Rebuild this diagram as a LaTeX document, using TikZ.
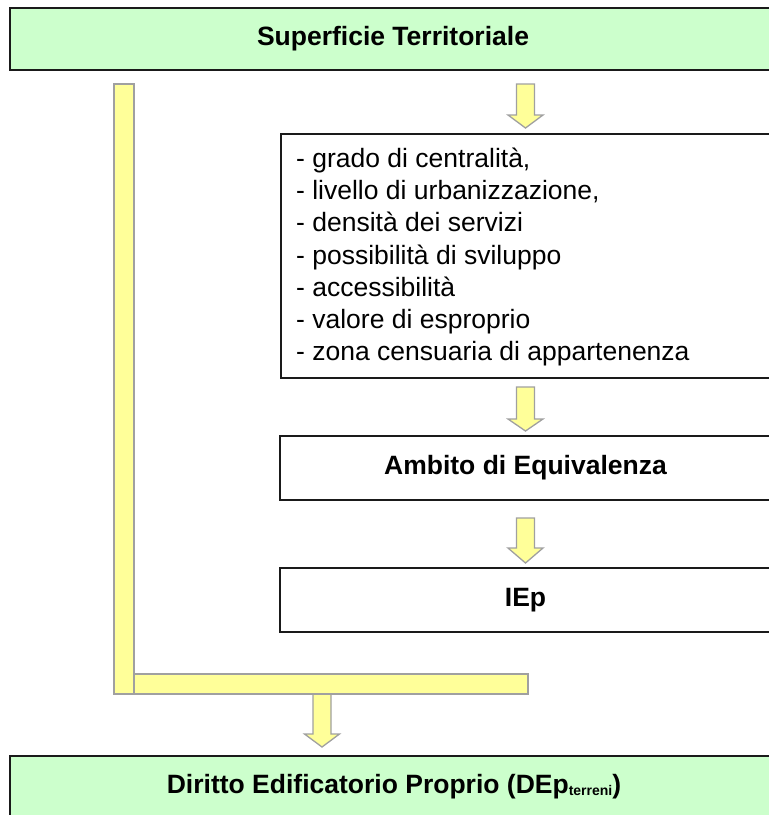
\documentclass[tikz,border=0pt]{standalone}
\usepackage{fontspec}
\setmainfont{Liberation Sans}
\definecolor{boxgreen}{HTML}{CCFFCC}
\definecolor{arrowyellow}{HTML}{FFFF99}
\definecolor{arrowgray}{HTML}{A0A0A0}
\definecolor{boxline}{HTML}{1A1A1A}
\newcommand{\yarrow}[4]{%
  \draw[blockarrow] (#1-9,#2) -- (#1+9,#2) -- (#1+9,#3) -- (#1+17.5,#3)
    -- (#1,#4) -- (#1-17.5,#3) -- (#1-9,#3) -- cycle;}
\begin{document}
\begin{tikzpicture}[x=1pt,y=-1pt,
  box/.style={draw=boxline, line width=1.5pt, inner sep=0pt, rectangle},
  greenbox/.style={box, fill=boxgreen, font=\fontsize{26.5}{32}\selectfont\bfseries},
  whitebox/.style={box, fill=white, font=\fontsize{26.5}{32}\selectfont\bfseries},
  listtext/.style={inner sep=0pt, align=left, font=\fontsize{26.5}{32.2}\selectfont},
  blockarrow/.style={draw=arrowgray, fill=arrowyellow, line width=1.3pt, line join=miter},
  bar/.style={draw=arrowgray, fill=arrowyellow, line width=1.3pt}]
\useasboundingbox (0,0) rectangle (769,815);
\clip (0,0) rectangle (769,815);

% boxes
\node[greenbox, minimum width=766pt, minimum height=62pt] (top) at (393,39) {Superficie Territoriale};
\node[box, fill=white, minimum width=489pt, minimum height=244pt] (list) at (525.5,256) {};
\node[listtext, anchor=west] (listtxt) at (296,257) {%
- grado di centralità,\\
- livello di urbanizzazione,\\
- densità dei servizi\\
- possibilità di sviluppo\\
- accessibilità\\
- valore di esproprio\\
- zona censuaria di appartenenza};
\node[whitebox, minimum width=491pt, minimum height=64pt] (ambito) at (525.5,468) {Ambito di Equivalenza};
\node[whitebox, minimum width=491pt, minimum height=64pt] (iep) at (525.5,600) {IEp};
\node[greenbox, minimum width=768pt, minimum height=62pt] (dep) at (394,787)
  {Diritto Edificatorio Proprio (DEp\raisebox{-1.5pt}{\fontsize{14}{14}\selectfont terreni})};

% block arrows
\yarrow{525.5}{84}{115}{128}
\yarrow{525.5}{387}{419}{431}
\yarrow{525.5}{518}{548}{563}
\yarrow{322}{690}{734}{747}

% L-shaped bar
\draw[bar] (114,84) rectangle (134,694);
\draw[bar] (134,674) rectangle (528,694);
\end{tikzpicture}
\end{document}
